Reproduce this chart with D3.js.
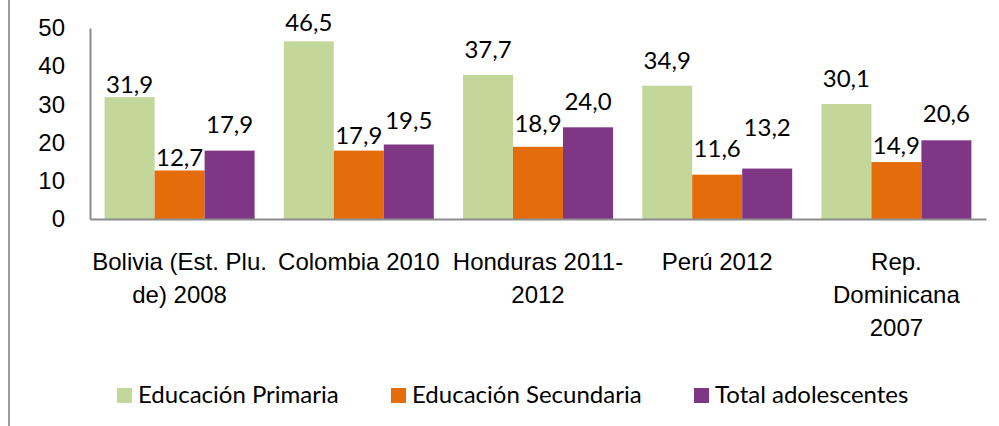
<!DOCTYPE html>
<html>
<head>
<meta charset="utf-8">
<script src="https://cdn.jsdelivr.net/npm/d3@7"></script>
<style>
  html, body { margin: 0; padding: 0; background: #fff; }
  svg { display: block; font-family: Lato, "Open Sans", sans-serif; }
</style>
</head>
<body>
<svg id="chart" width="999" height="426"></svg>
<script>
// ---- data ----
const categories = [
  "Bolivia (Est. Plu.\nde) 2008",
  "Colombia 2010",
  "Honduras 2011-\n2012",
  "Perú 2012",
  "Rep.\nDominicana\n2007"
];
const seriesNames = ["Educación Primaria", "Educación Secundaria", "Total adolescentes"];
const primaria   = [31.9, 46.5, 37.7, 34.9, 30.1];
const secundaria = [12.7, 17.9, 18.9, 11.6, 14.9];
const total      = [17.9, 19.5, 24.0, 13.2, 20.6];
const yTicks = [0, 10, 20, 30, 40, 50];

// ---- layout / style ----
const colors = ["#C4D79B", "#E46C0A", "#7F3684"];
// gap (px) between bar top and label bottom, per series x category (as in the picture)
const labelGaps = [
  [4, 10, 17, 17, 17],
  [4, 7, 15, 18, 8],
  [18, 16, 17, 33, 18]
];
const fontSize = 24;
const x0 = 90, x1 = 986, yTop = 28, yBase = 219;

const svg = d3.select("#chart");
const seriesValues = [primaria, secundaria, total];

const x = d3.scaleBand().domain(d3.range(categories.length)).range([x0, x1]).paddingInner(0.163).paddingOuter(0.0815);
const xs = d3.scaleBand().domain(d3.range(seriesNames.length)).range([0, x.bandwidth()]);
const y = d3.scaleLinear().domain([0, 50]).range([yBase, yTop]);

// left border
svg.append("line").attr("x1", 9).attr("x2", 9).attr("y1", 0).attr("y2", 426)
  .attr("stroke", "#9a9a9a").attr("stroke-width", 2);

// y axis
const yAxis = svg.append("g").attr("transform", `translate(${x0},0)`)
  .call(d3.axisLeft(y).tickValues(yTicks).tickSize(0).tickPadding(25).tickFormat(d3.format("d")));
yAxis.select(".domain").attr("stroke", "#8c8c8c").attr("stroke-width", 2);
yAxis.selectAll("text").attr("font-size", fontSize).attr("fill", "#000").attr("font-family", null);

// bars
seriesValues.forEach((vals, s) => {
  const g = svg.append("g");
  g.selectAll("rect").data(vals).join("rect")
    .attr("x", (d, i) => x(i) + xs(s))
    .attr("width", xs.bandwidth())
    .attr("y", d => y(d))
    .attr("height", d => yBase - y(d))
    .attr("fill", colors[s]);
  g.selectAll("text").data(vals).join("text")
    .attr("x", (d, i) => x(i) + xs(s) + xs.bandwidth() / 2)
    .attr("y", (d, i) => y(d) - labelGaps[s][i])
    .attr("text-anchor", "middle")
    .attr("font-size", fontSize)
    .attr("fill", "#000")
    .text(d => d3.format(".1f")(d).replace(".", ","));
});

// x axis
const xAxis = svg.append("g").attr("transform", `translate(0,${yBase})`)
  .call(d3.axisBottom(x).tickSize(0).tickFormat(""));
xAxis.select(".domain").attr("stroke", "#8c8c8c").attr("stroke-width", 2);
xAxis.selectAll(".tick").each(function(d) {
  const lines = categories[d].split("\n");
  const t = d3.select(this).append("text")
    .attr("text-anchor", "middle").attr("font-size", fontSize).attr("fill", "#000");
  lines.forEach((ln, k) => {
    t.append("tspan").attr("x", 0).attr("y", 51 + k * 33).text(ln);
  });
});

// legend
const legendX = [117, 391, 694];
const lg = svg.append("g");
seriesNames.forEach((n, s) => {
  lg.append("rect").attr("x", legendX[s]).attr("y", 388).attr("width", 15).attr("height", 15).attr("fill", colors[s]);
  lg.append("text").attr("x", legendX[s] + 21).attr("y", 403).attr("font-size", fontSize).attr("fill", "#000").text(n);
});
</script>
</body>
</html>
